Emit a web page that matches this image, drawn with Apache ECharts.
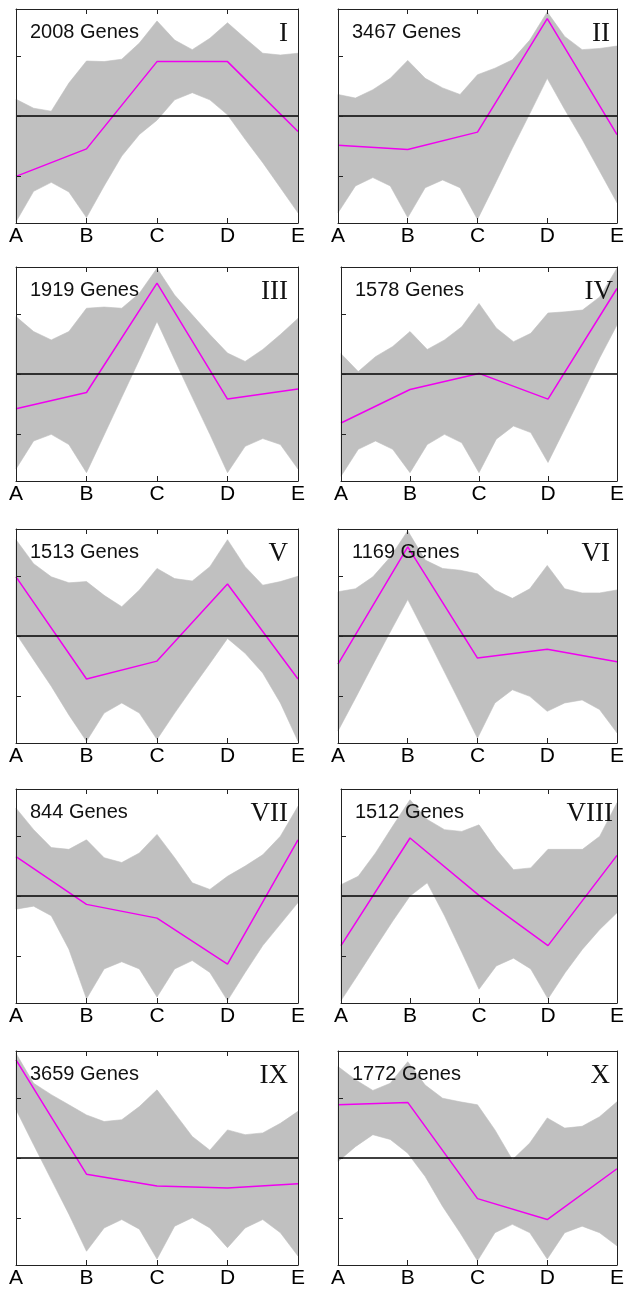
<!DOCTYPE html>
<html>
<head>
<meta charset="utf-8">
<script src="https://cdn.jsdelivr.net/npm/echarts@6/dist/echarts.min.js"></script>
<style>
html,body{margin:0;padding:0;background:#fff;}
#chart{width:627px;height:1290px;}
</style>
</head>
<body>
<div id="chart"></div>
<script>
// ---------- data ----------
const categories = ['A', 'B', 'C', 'D', 'E'];
const yTicks = [-1, 0, 1];
const geneCounts = [2008, 3467, 1919, 1578, 1513, 1169, 844, 1512, 3659, 1772];
const numerals = ['I', 'II', 'III', 'IV', 'V', 'VI', 'VII', 'VIII', 'IX', 'X'];
// sample positions (in category units) where the grey envelope edges were read
const envX = [0, 0.25, 0.5, 0.75, 1, 1.25, 1.5, 1.75, 2, 2.25, 2.5, 2.75, 3, 3.25, 3.5, 3.75, 4];

const meanI = [-1.01, -0.55, 0.91, 0.91, -0.26];
const upperI = [0.28, 0.13, 0.08, 0.55, 0.92, 0.91, 0.95, 1.22, 1.59, 1.27, 1.11, 1.30, 1.56, 1.30, 1.05, 1.02, 1.05];
const lowerI = [-1.77, -1.26, -1.11, -1.27, -1.70, -1.17, -0.67, -0.31, -0.07, 0.27, 0.39, 0.27, 0.02, -0.39, -0.78, -1.20, -1.62];

const meanII = [-0.49, -0.56, -0.27, 1.63, -0.31];
const upperII = [0.36, 0.30, 0.44, 0.63, 0.93, 0.63, 0.47, 0.36, 0.69, 0.80, 0.94, 1.27, 1.74, 1.33, 1.11, 1.13, 1.17];
const lowerII = [-1.62, -1.17, -1.03, -1.17, -1.70, -1.20, -1.07, -1.20, -1.73, -1.14, -0.54, 0.04, 0.63, 0.11, -0.39, -0.92, -1.45];

const meanIII = [-0.58, -0.31, 1.52, -0.42, -0.25];
const upperIII = [0.96, 0.71, 0.57, 0.71, 1.10, 1.12, 1.10, 1.35, 1.77, 1.32, 0.99, 0.66, 0.35, 0.21, 0.41, 0.66, 0.93];
const lowerIII = [-1.59, -1.12, -1.01, -1.18, -1.65, -1.02, -0.39, 0.24, 0.88, 0.24, -0.39, -1.01, -1.65, -1.21, -1.08, -1.18, -1.59];

const meanIV = [-0.82, -0.26, 0.01, -0.42, 1.43];
const upperIV = [0.34, 0.04, 0.29, 0.46, 0.71, 0.41, 0.57, 0.79, 1.18, 0.77, 0.54, 0.68, 1.02, 1.04, 1.07, 1.29, 1.77];
const lowerIV = [-1.71, -1.26, -1.12, -1.26, -1.65, -1.18, -1.01, -1.15, -1.65, -1.09, -0.87, -0.98, -1.48, -0.90, -0.32, 0.27, 0.82];

const meanV = [0.99, -0.72, -0.42, 0.87, -0.72];
const upperV = [1.61, 1.21, 0.99, 0.89, 0.91, 0.68, 0.49, 0.77, 1.13, 0.96, 0.92, 1.16, 1.61, 1.16, 0.85, 0.91, 1.00];
const lowerV = [0.04, -0.40, -0.84, -1.32, -1.76, -1.29, -1.12, -1.29, -1.73, -1.29, -0.87, -0.46, -0.04, -0.29, -0.62, -1.12, -1.76];

const meanVI = [-0.47, 1.49, -0.37, -0.22, -0.43];
const upperVI = [0.74, 0.79, 0.99, 1.32, 1.76, 1.27, 1.13, 1.10, 1.04, 0.77, 0.63, 0.79, 1.18, 0.79, 0.72, 0.72, 0.77];
const lowerVI = [-1.59, -1.04, -0.48, 0.07, 0.61, 0.04, -0.54, -1.12, -1.71, -1.12, -0.90, -1.01, -1.26, -1.12, -1.07, -1.23, -1.62];

const meanVII = [0.66, -0.14, -0.37, -1.14, 0.94];
const upperVII = [1.47, 1.11, 0.81, 0.78, 0.94, 0.64, 0.56, 0.72, 1.03, 0.64, 0.22, 0.11, 0.33, 0.50, 0.69, 1.00, 1.50];
const lowerVII = [-0.22, -0.17, -0.33, -0.89, -1.72, -1.22, -1.10, -1.22, -1.69, -1.22, -1.08, -1.28, -1.75, -1.28, -0.83, -0.47, -0.11];

const meanVIII = [-0.83, 0.97, 0.01, -0.83, 0.68];
const upperVIII = [0.19, 0.33, 0.72, 1.17, 1.61, 1.28, 1.11, 1.08, 1.19, 0.78, 0.44, 0.47, 0.78, 0.78, 0.78, 1.00, 1.56];
const lowerVIII = [-1.75, -1.31, -0.86, -0.42, 0.00, 0.22, -0.33, -0.94, -1.56, -1.17, -1.04, -1.22, -1.72, -1.28, -0.89, -0.56, -0.28];

const meanIX = [1.64, -0.27, -0.47, -0.50, -0.43];
const upperIX = [1.75, 1.25, 1.06, 0.89, 0.72, 0.61, 0.64, 0.86, 1.14, 0.75, 0.36, 0.13, 0.47, 0.39, 0.42, 0.58, 0.78];
const lowerIX = [0.81, 0.22, -0.36, -0.94, -1.56, -1.17, -1.03, -1.19, -1.69, -1.14, -1.00, -1.17, -1.50, -1.17, -1.03, -1.25, -1.64];

const meanX = [0.89, 0.93, -0.68, -1.03, -0.18];
const upperX = [1.53, 1.31, 1.13, 1.25, 1.61, 1.22, 1.00, 0.94, 0.89, 0.47, -0.03, 0.25, 0.67, 0.50, 0.53, 0.69, 0.94];
const lowerX = [-0.06, 0.19, 0.39, 0.31, 0.08, -0.31, -0.81, -1.25, -1.72, -1.25, -1.11, -1.25, -1.69, -1.25, -1.14, -1.25, -1.47];

// ---------- layout ----------
const panels = [
  {mean: meanI, up: upperI, lo: lowerI},
  {mean: meanII, up: upperII, lo: lowerII},
  {mean: meanIII, up: upperIII, lo: lowerIII},
  {mean: meanIV, up: upperIV, lo: lowerIV},
  {mean: meanV, up: upperV, lo: lowerV},
  {mean: meanVI, up: upperVI, lo: lowerVI},
  {mean: meanVII, up: upperVII, lo: lowerVII},
  {mean: meanVIII, up: upperVIII, lo: lowerVIII},
  {mean: meanIX, up: upperIX, lo: lowerIX},
  {mean: meanX, up: upperX, lo: lowerX}
];
const boxes = [
  {left: 16, top: 9}, {left: 338, top: 9},
  {left: 16, top: 267}, {left: 341, top: 267},
  {left: 16, top: 529}, {left: 338, top: 529},
  {left: 16, top: 789}, {left: 341, top: 789},
  {left: 16, top: 1051}, {left: 338, top: 1051}
];
const W = 282, H = 214;
const YMAX = 1.79;
const frameColor = '#222';

const grid = [], xAxis = [], yAxis = [], series = [], graphic = [];

panels.forEach((p, i) => {
  const b = boxes[i];
  grid.push({left: b.left, top: b.top, width: W, height: H, containLabel: false});
  const lineSt = {show: true, onZero: false, lineStyle: {color: frameColor, width: 1}};
  // bottom x axis with category letters
  xAxis.push({
    gridIndex: i, type: 'value', min: 0, max: 4, interval: 1, position: 'bottom', z: 10,
    axisLine: lineSt,
    axisTick: {show: true, inside: true, length: 5, customValues: [1, 2, 3], lineStyle: {color: frameColor}},
    axisLabel: {
      show: true, margin: 3, fontSize: 21, color: '#000', fontFamily: 'Liberation Sans',
      showMinLabel: true, showMaxLabel: true,
      formatter: v => categories[Math.round(v)] || ''
    },
    splitLine: {show: false}
  });
  // top x axis (frame + ticks)
  xAxis.push({
    gridIndex: i, type: 'value', min: 0, max: 4, interval: 1, position: 'top', z: 10,
    axisLine: lineSt,
    axisTick: {show: true, inside: true, length: 5, customValues: [1, 2, 3], lineStyle: {color: frameColor}},
    axisLabel: {show: false}, splitLine: {show: false}
  });
  yAxis.push({
    gridIndex: i, type: 'value', min: -YMAX, max: YMAX, position: 'left', z: 10,
    axisLine: lineSt,
    axisTick: {show: true, inside: true, length: 5, customValues: yTicks, lineStyle: {color: frameColor}},
    axisLabel: {show: false}, splitLine: {show: false}
  });
  yAxis.push({
    gridIndex: i, type: 'value', min: -YMAX, max: YMAX, position: 'right', z: 10,
    axisLine: lineSt,
    axisTick: {show: false}, axisLabel: {show: false}, splitLine: {show: false}
  });

  const up = p.up, lo = p.lo;
  series.push({
    type: 'custom', xAxisIndex: 2 * i, yAxisIndex: 2 * i, z: 1, silent: true,
    data: [[0, 0]],
    renderItem: (params, api) => {
      const pts = [];
      for (let k = 0; k < envX.length; k++) pts.push(api.coord([envX[k], up[k]]));
      for (let k = envX.length - 1; k >= 0; k--) pts.push(api.coord([envX[k], lo[k]]));
      return {type: 'polygon', shape: {points: pts}, style: {fill: '#c0c0c0', stroke: '#c0c0c0', lineWidth: 0.6}};
    }
  });
  series.push({
    type: 'line', xAxisIndex: 2 * i, yAxisIndex: 2 * i, z: 2, silent: true,
    data: [],
    markLine: {
      silent: true, symbol: ['none', 'none'], label: {show: false}, animation: false,
      lineStyle: {color: '#000', width: 1.5, type: 'solid'},
      data: [{yAxis: 0}]
    }
  });
  series.push({
    type: 'line', xAxisIndex: 2 * i, yAxisIndex: 2 * i, z: 3, silent: true,
    symbol: 'none',
    lineStyle: {color: '#f000f0', width: 1.5},
    data: p.mean.map((v, k) => [k, v])
  });

  graphic.push({
    type: 'text', x: b.left + 14, y: b.top + 23.5, z: 20,
    style: {
      text: geneCounts[i] + ' Genes', font: '20px "Liberation Sans"', fill: '#111',
      align: 'left', verticalAlign: 'middle', textAlign: 'left', textVerticalAlign: 'middle'
    }
  });
  graphic.push({
    type: 'text', x: b.left + W - 10, y: b.top + 24.5, z: 20,
    style: {
      text: numerals[i], font: '27px "Liberation Serif"', fill: '#111',
      align: 'right', verticalAlign: 'middle', textAlign: 'right', textVerticalAlign: 'middle'
    }
  });
});

const chart = echarts.init(document.getElementById('chart'), null, {renderer: 'canvas'});
chart.setOption({
  animation: false,
  backgroundColor: '#fff',
  grid, xAxis, yAxis, series, graphic
});
</script>
</body>
</html>
